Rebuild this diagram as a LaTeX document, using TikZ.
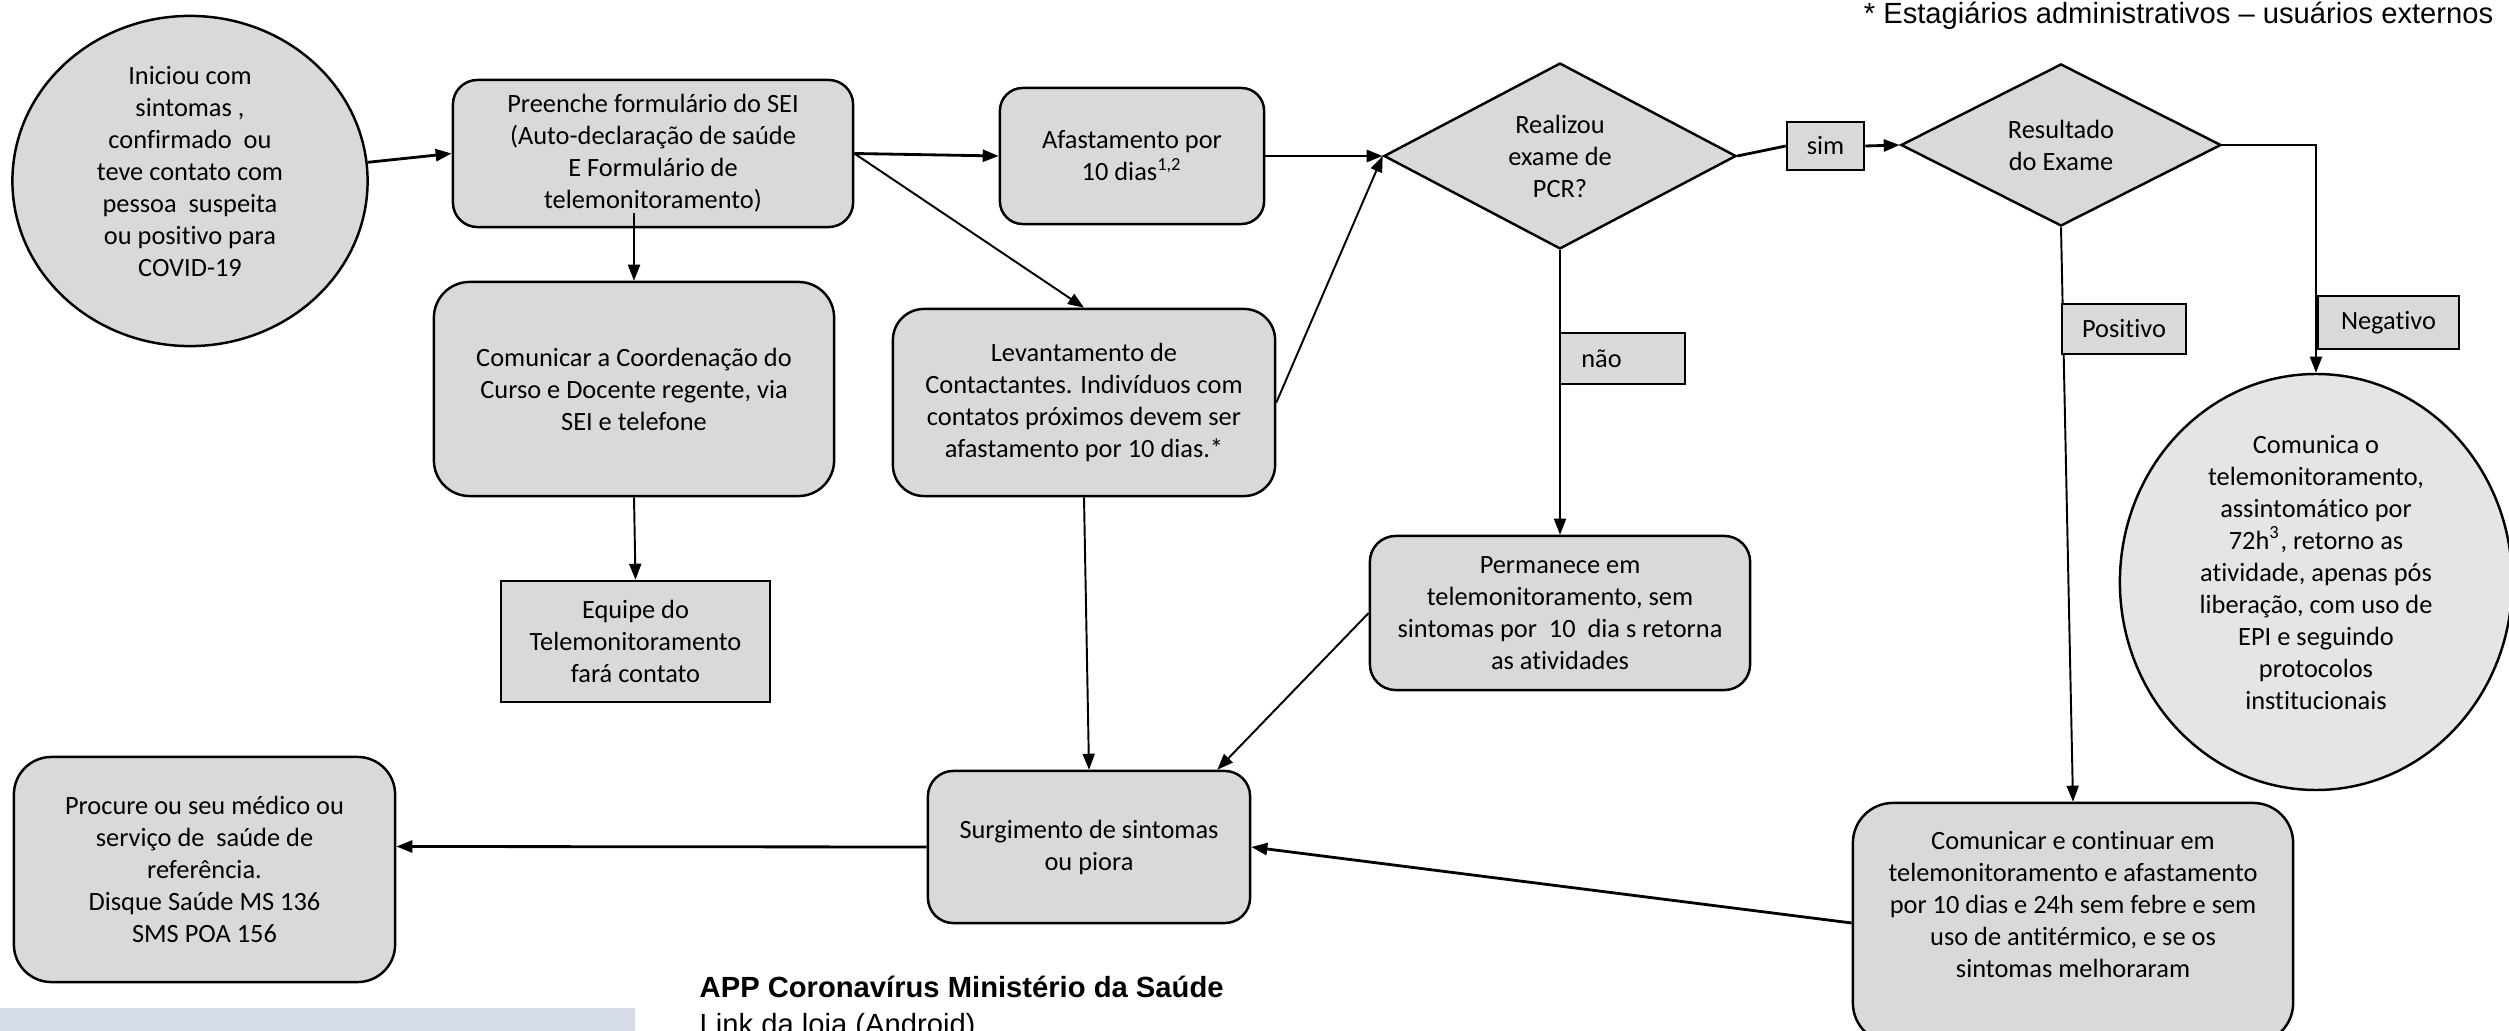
\documentclass[tikz,border=0pt]{standalone}
\usepackage{fontspec}
\setmainfont{Carlito}[Ligatures=NoCommon]
\newfontfamily\arialfont{Liberation Sans}
\usetikzlibrary{shapes.geometric,arrows.meta,calc,backgrounds}
\definecolor{boxgray}{RGB}{217,217,217}
\definecolor{ellgray}{RGB}{229,229,229}
\definecolor{bluegray}{RGB}{214,220,229}
\newcommand\boxfont{\fontsize{7.5}{9.1}\selectfont}
\newcommand\notefont{\arialfont\fontsize{8.3}{10}\selectfont}
\begin{document}
\begin{tikzpicture}[x=0.01cm,y=-0.01cm,
  base/.style={draw, fill=boxgray, line width=0.7pt, align=center, inner sep=0pt, font=\boxfont},
  rbox/.style={base, rectangle},
  sbox/.style={base, rectangle},
  lbl/.style={base, rectangle, line width=0.7pt},
  ell/.style={base, ellipse},
  dia/.style={base, diamond},
  arr/.style={line width=0.55pt, -{Triangle[length=0.16cm,width=0.12cm]}},
  arrthick/.style={line width=0.8pt, -{Triangle[length=0.16cm,width=0.12cm]}},
  plainthick/.style={line width=0.8pt},
  txt/.style={inner sep=0pt}
]
\useasboundingbox (0,0) rectangle (2509,1031);
\clip (0,0) rectangle (2509,1031);

\fill[bluegray] (0,1008) rectangle (635,1040);

% nodes
\node[ell, minimum width=3.55cm, minimum height=3.30cm] (A) at (190,181)
  {Iniciou com\\ sintomas ,\\ confirmado\ \ ou\\ teve contato com\\ pessoa\ \ suspeita\\ ou positivo para\\ COVID-19\rule[-0.2cm]{0pt}{0pt}};
\node[rbox, rounded corners=0.245cm, minimum width=4.00cm, minimum height=1.47cm] (B) at (653,153.5)
  {Preenche formulário do SEI\\ (Auto-declaração de saúde\\ E Formulário de\\ telemonitoramento)};
\node[rbox, rounded corners=0.227cm, minimum width=2.64cm, minimum height=1.36cm] (C) at (1132,156)
  {Afastamento por\\ 10 dias\textsuperscript{1,2}};
\node[dia, minimum width=3.52cm, minimum height=1.84cm] (D) at (1560,156)
  {Realizou\\ exame de\\ PCR?};
\node[lbl, minimum width=0.77cm, minimum height=0.48cm] (sim) at (1825.5,146) {sim};
\node[dia, minimum width=3.20cm, minimum height=1.62cm] (E) at (2061,145)
  {Resultado\\ do Exame};
\node[rbox, rounded corners=0.357cm, minimum width=4.00cm, minimum height=2.14cm] (F) at (634,389)
  {Comunicar a Coordenação do\\ Curso e Docente regente, via\\ SEI e telefone};
\node[rbox, rounded corners=0.31cm, minimum width=3.82cm, minimum height=1.87cm] (G) at (1084,402.5)
  {Levantamento de\\ Contactantes. Indivíduos com\\ contatos próximos devem ser\\ afastamento por 10 dias.*};
\node[sbox, minimum width=2.69cm, minimum height=1.21cm] (H) at (635.5,641.5)
  {Equipe do\\ Telemonitoramento\\ fará contato};
\node[rbox, rounded corners=0.257cm, minimum width=3.80cm, minimum height=1.54cm] (I) at (1560,613)
  {Permanece em\\ telemonitoramento, sem\\ sintomas por\ \ 10\ \ dia s retorna\\ as atividades};
\node[ell, fill=ellgray, minimum width=3.92cm, minimum height=3.96cm] (J) at (2316,582)
  {Comunica o\\ telemonitoramento,\\ assintomático por\\ 72h\textsuperscript{3}, retorno as\\ atividade, apenas pós\\ liberação, com uso de\\ EPI e seguindo\\ protocolos\\ institucionais\rule[-0.2cm]{0pt}{0pt}};
\node[rbox, rounded corners=0.253cm, minimum width=3.22cm, minimum height=1.52cm] (K) at (1089,847)
  {Surgimento de sintomas\\ ou piora};
\node[rbox, rounded corners=0.375cm, minimum width=3.81cm, minimum height=2.25cm] (L) at (204.5,869.5)
  {Procure ou seu médico ou\\ serviço de\ \ saúde de\\ referência.\\ Disque Saúde MS 136\\ SMS POA 156};
\node[rbox, rounded corners=0.4cm, minimum width=4.40cm, minimum height=2.40cm] (M) at (2073,923)
  {Comunicar e continuar em\\ telemonitoramento e afastamento\\ por 10 dias e 24h sem febre e sem\\ uso de antitérmico, e se os\\ sintomas melhoraram\rule[-0.38cm]{0pt}{0pt}};

\node[lbl, minimum width=1.25cm, minimum height=0.51cm] (nao) at (1622.5,358.5) {não\hspace*{0.42cm}};
\node[lbl, minimum width=1.24cm, minimum height=0.50cm] (pos) at (2124,329) {Positivo};
\node[lbl, minimum width=1.41cm, minimum height=0.53cm] (neg) at (2388.5,322.5) {Negativo};

% texts
\node[txt, anchor=base east, font=\notefont] (note) at (2494,24)
  {* Estagiários administrativos – usuários externos};
\node[txt, anchor=base west, font=\notefont\bfseries] (app) at (699,997)
  {APP Coronavírus Ministério da Saúde};
\node[txt, anchor=base west, font=\notefont] (link) at (699,1034)
  {Link da loja (Android)};

% connectors
\begin{scope}[on background layer]
\draw[arrthick] (A) -- (B.west);
\draw[arrthick] (B.east) -- (C.west);
\draw[arr] (B.east) -- (G.north);
\draw[arrthick] (C.east) -- (D.west);
\draw[arr] (G.east) -- (D.west);
\draw[plainthick] (D.east) -- (sim.west);
\draw[arrthick] (sim.east) -- (E.west);
\draw[arr] (D.south) -- (I.north);
\draw[arr] (E.east) -| (J.north);
\draw[arr] (E.south) -- (M.north);
\draw[arr] (F.south) -- (H.north);
\draw[arr] (G.south) -- (K.north);
\draw[arr] (I.west) -- ($(K.north east)+(-34,0)$);
\draw[arrthick] (M.west) -- (K.east);
\draw[arrthick] (K.west) -- ([yshift=0.23cm]L.east);
\end{scope}
\draw[arr] ([yshift=0.15cm]B.south -| F.north) -- (F.north);
\end{tikzpicture}
\end{document}
